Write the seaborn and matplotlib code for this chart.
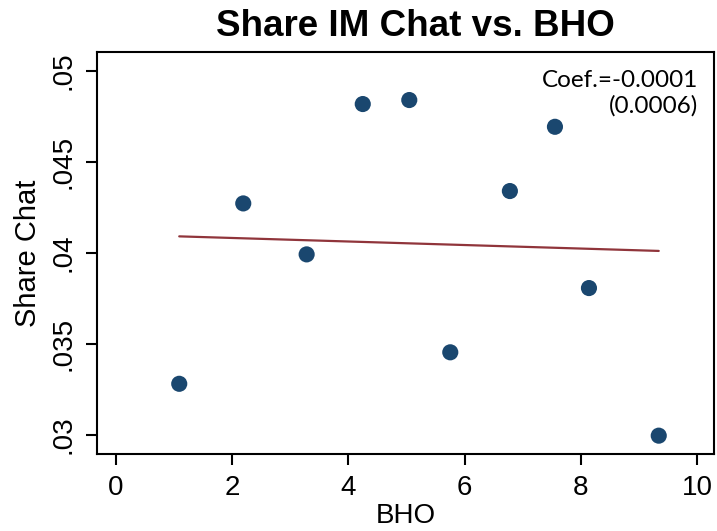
import matplotlib
matplotlib.use("Agg")
import matplotlib.pyplot as plt
import seaborn as sns
import pandas as pd

# ---- data ----
bho = [1.094, 2.195, 3.285, 4.25, 5.05, 5.755, 6.78, 7.555, 8.14, 9.34]
share_chat = [0.0328, 0.04271, 0.03991, 0.04817, 0.04839, 0.03453, 0.04339, 0.04692, 0.03806, 0.02995]
fit_x = [1.094, 9.34]
fit_y = [0.0409, 0.0401]
x_ticks = [0, 2, 4, 6, 8, 10]
x_tick_labels = ["0", "2", "4", "6", "8", "10"]
y_ticks = [0.03, 0.035, 0.04, 0.045, 0.05]
y_tick_labels = [".03", ".035", ".04", ".045", ".05"]
title = "Share IM Chat vs. BHO"
x_label = "BHO"
y_label = "Share Chat"
annot = "Coef.=-0.0001\n(0.0006)"

sns.set_theme(style="ticks")
plt.rcParams["font.family"] = ["Liberation Sans", "DejaVu Sans"]
plt.rcParams["text.color"] = "black"
plt.rcParams["axes.labelcolor"] = "black"
plt.rcParams["xtick.color"] = "black"
plt.rcParams["ytick.color"] = "black"

df = pd.DataFrame({"BHO": bho, "Share": share_chat})
fit = pd.DataFrame({"x": fit_x, "y": fit_y})

fig = plt.figure(figsize=(7.17, 5.31), dpi=100)
ax = fig.add_axes([0.1353, 0.1456, 0.9958 - 0.1353, 0.9021 - 0.1456])

sns.lineplot(data=fit, x="x", y="y", ax=ax, color="#90353b", linewidth=1.6, zorder=2)
sns.scatterplot(data=df, x="BHO", y="Share", ax=ax, color="#1a476f", s=135,
                edgecolor="none", linewidth=0, zorder=3)

ax.set_xlim(-0.32, 10.29)
ax.set_ylim(0.02896, 0.05103)
ax.set_xticks(x_ticks)
ax.set_xticklabels(x_tick_labels, fontsize=20)
ax.set_yticks(y_ticks)
ax.set_yticklabels(y_tick_labels, fontsize=20, rotation=90, va="center")
ax.tick_params(axis="both", length=8, width=1.5, color="black", pad=7, labelcolor="black")
for sp in ax.spines.values():
    sp.set_visible(True)
    sp.set_linewidth(1.5)
    sp.set_color("black")
ax.grid(False)
ax.set_facecolor("white")

ax.set_xlabel(x_label, fontsize=20, labelpad=2, color="black")
ax.set_ylabel(y_label, fontsize=21, labelpad=6, color="black")

fig.text(415 / 717, 1 - 27 / 531, title, fontsize=26.5, fontweight="bold",
         ha="center", va="center", color="black")
ax.text(0.975, 0.955, annot, transform=ax.transAxes, ha="right", va="top",
        fontsize=17.5, family=["Lato", "DejaVu Sans"], linespacing=1.2,
        multialignment="right", color="black")

fig.savefig("out.png", dpi=100, facecolor="white")
